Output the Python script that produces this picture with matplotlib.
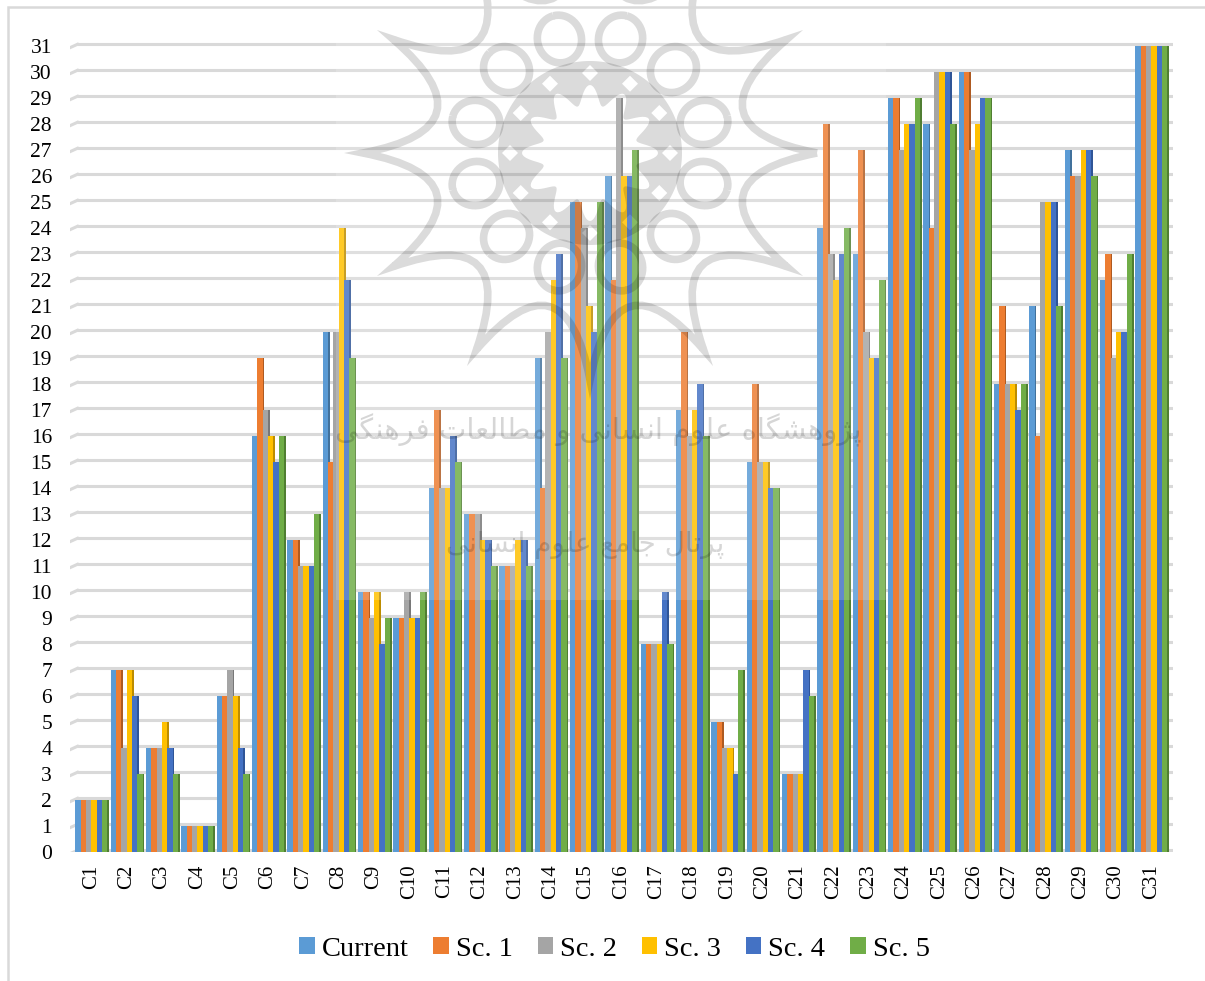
import matplotlib
matplotlib.use("Agg")
import matplotlib.pyplot as plt
from matplotlib.path import Path
from matplotlib.patches import PathPatch, Rectangle
import numpy as np

categories = [f"C{i}" for i in range(1, 32)]
current = [2, 7, 4, 1, 6, 16, 12, 20, 10, 9, 14, 13, 11, 19, 25, 26, 8, 17, 5, 15, 3, 24, 23, 29, 28, 30, 18, 21, 27, 22, 31]
sc1 = [2, 7, 4, 1, 6, 19, 12, 15, 10, 9, 17, 13, 11, 14, 25, 22, 8, 20, 5, 18, 3, 28, 27, 29, 24, 30, 21, 16, 26, 23, 31]
sc2 = [2, 4, 4, 1, 7, 17, 11, 20, 9, 10, 14, 13, 11, 20, 24, 29, 8, 16, 4, 15, 3, 23, 20, 27, 30, 27, 18, 25, 26, 19, 31]
sc3 = [2, 7, 5, 1, 6, 16, 11, 24, 10, 9, 14, 12, 12, 22, 21, 26, 8, 17, 4, 15, 3, 22, 19, 28, 30, 28, 18, 25, 27, 20, 31]
sc4 = [2, 6, 4, 1, 4, 15, 11, 22, 8, 9, 16, 12, 12, 23, 20, 26, 10, 18, 3, 14, 7, 23, 19, 28, 30, 29, 17, 25, 27, 20, 31]
sc5 = [2, 3, 3, 1, 3, 16, 13, 19, 9, 10, 15, 11, 11, 19, 25, 27, 8, 16, 7, 14, 6, 24, 22, 29, 28, 29, 18, 21, 26, 23, 31]
series = [current, sc1, sc2, sc3, sc4, sc5]
labels = ["Current", "Sc. 1", "Sc. 2", "Sc. 3", "Sc. 4", "Sc. 5"]
colors = ["#5B9BD5", "#ED7D31", "#A5A5A5", "#FFC000", "#4472C4", "#70AD47"]
sides = ["#41719C", "#AE5A21", "#787878", "#BC8C00", "#2F5597", "#507E32"]

line1 = "پژوهشگاه علوم انسانی و مطالعات فرهنگی"
line2 = "پرتال جامع علوم انسانی"

# presentation forms: isolated, final, initial, medial
FORMS = {
    "ا": (0xFE8D, 0xFE8E), "ر": (0xFEAD, 0xFEAE), "ژ": (0xFB8A, 0xFB8B), "و": (0xFEED, 0xFEEE),
    "پ": (0xFB56, 0xFB57, 0xFB58, 0xFB59), "ت": (0xFE95, 0xFE96, 0xFE97, 0xFE98),
    "ج": (0xFE9D, 0xFE9E, 0xFE9F, 0xFEA0), "س": (0xFEB1, 0xFEB2, 0xFEB3, 0xFEB4),
    "ش": (0xFEB5, 0xFEB6, 0xFEB7, 0xFEB8), "ط": (0xFEC1, 0xFEC2, 0xFEC3, 0xFEC4),
    "ع": (0xFEC9, 0xFECA, 0xFECB, 0xFECC), "ف": (0xFED1, 0xFED2, 0xFED3, 0xFED4),
    "گ": (0xFB92, 0xFB93, 0xFB94, 0xFB95), "ل": (0xFEDD, 0xFEDE, 0xFEDF, 0xFEE0),
    "م": (0xFEE1, 0xFEE2, 0xFEE3, 0xFEE4), "ن": (0xFEE5, 0xFEE6, 0xFEE7, 0xFEE8),
    "ه": (0xFEE9, 0xFEEA, 0xFEEB, 0xFEEC), "ی": (0xFBFC, 0xFBFD, 0xFBFE, 0xFBFF),
}


def shape(text):
    # matplotlib does no arabic shaping, so pick the joined forms and reverse
    out = []
    for k, ch in enumerate(text):
        if ch not in FORMS:
            out.append(ch)
            continue
        prev = text[k - 1] if k > 0 else " "
        nxt = text[k + 1] if k < len(text) - 1 else " "
        joins_prev = prev in FORMS and len(FORMS[prev]) == 4
        joins_next = nxt in FORMS and len(FORMS[ch]) == 4
        if joins_prev and joins_next:
            idx = 3
        elif joins_next:
            idx = 2
        elif joins_prev:
            idx = 1
        else:
            idx = 0
        out.append(chr(FORMS[ch][idx]))
    return "".join(out[::-1])


def emblem_lines(cx, cy):
    # twelve pointed star and the ring of twelve loops, stroked
    verts, codes = [], []
    step = np.pi / 6
    for k in range(13):
        a = k * step
        tip = (cx + 227 * np.cos(a), cy - 227 * np.sin(a))
        if k == 0:
            verts.append(tip)
            codes.append(Path.MOVETO)
        else:
            mid = a - step / 2
            verts.append((cx + 98 * np.cos(mid), cy - 98 * np.sin(mid)))
            codes.append(Path.CURVE3)
            verts.append(tip)
            codes.append(Path.CURVE3)
    t = np.linspace(0, 2 * np.pi, 49)
    for k in range(12):
        a = k * step + step / 2
        x = 24 * np.cos(t)
        y = 22 * np.sin(t)
        px = cx + 118 * np.cos(a) + x * np.cos(a) - y * np.sin(a)
        py = cy - 118 * np.sin(a) - x * np.sin(a) - y * np.cos(a)
        verts += list(zip(px, py))
        codes += [Path.MOVETO] + [Path.LINETO] * 48
    return Path(verts, codes)


def emblem_band(cx, cy):
    # thick middle band, white flower inside and small diamonds cut out of it
    verts, codes = [], []
    t = np.linspace(0, 2 * np.pi, 241)
    verts += list(zip(cx + 92 * np.cos(t), cy + 92 * np.sin(t)))
    codes += [Path.MOVETO] + [Path.LINETO] * 240
    r = 58 + 10 * np.cos(12 * t)
    verts += list(zip(cx + r[::-1] * np.cos(t[::-1]), cy + r[::-1] * np.sin(t[::-1])))
    codes += [Path.MOVETO] + [Path.LINETO] * 240
    for k in range(12):
        a = k * np.pi / 6
        px, py = cx + 80 * np.cos(a), cy + 80 * np.sin(a)
        d = 8
        verts += [(px + d, py), (px, py - d), (px - d, py), (px, py + d), (px + d, py)]
        codes += [Path.MOVETO] + [Path.LINETO] * 4
    return Path(verts, codes)


W, H = 1205, 981
fig = plt.figure(figsize=(W / 100, H / 100), dpi=100)
plt.rcParams["font.family"] = ["Liberation Serif", "DejaVu Sans"]

# axes box in pixels, bottom at value 0
ax = fig.add_axes([70 / W, 1 - 852 / H, (1173 - 70) / W, (852 - 20) / H])
pitch = 35.33
ax.set_xlim((70 - 91.4) / pitch, (1173 - 91.4) / pitch)
ax.set_ylim(0, (852 - 20) / 26.0)

x = np.arange(len(categories))
bar_w = 5.33 / pitch
side_w = 1.7 / pitch
lift = 1.7 / 26.0
drop = 3.2 / 26.0
stub = 7 / pitch
for v in range(32):
    ax.plot([x[0] - 0.396, x[-1] + 0.625], [v + lift, v + lift], color="#D9D9D9", lw=2.2, zorder=1, solid_capstyle="butt")
    ax.plot([x[0] - 0.396 - stub, x[0] - 0.396], [v + lift - drop, v + lift], color="#D9D9D9", lw=2.2, zorder=1)

for j, vals in enumerate(series):
    pos = x + (j - 2.5) * bar_w
    ax.bar(pos + bar_w / 2 + side_w / 2, vals, side_w, color=sides[j], zorder=2 + j * 2, linewidth=0)
    ax.bar(pos, vals, bar_w, color=colors[j], label=labels[j], zorder=3 + j * 2, linewidth=0)

for s in ax.spines.values():
    s.set_visible(False)
ax.patch.set_visible(False)
ax.set_xticks(x)
ax.set_xticklabels(categories, rotation=90, fontsize=15)
ax.set_yticks(np.arange(32))
ax.set_yticklabels([str(v) for v in range(32)], fontsize=15.5)
ax.tick_params(axis="both", length=0)
ax.tick_params(axis="x", pad=9)
ax.tick_params(axis="y", pad=13)

leg = ax.legend(loc="center", bbox_to_anchor=(614.5 / W, 1 - 949 / H), bbox_transform=fig.transFigure, ncol=6,
                frameon=False, fontsize=20.5, handlelength=0.54, handleheight=0.54, handletextpad=0.25, columnspacing=0.87,
                borderpad=0, borderaxespad=0)

# overlay in image pixels: page frame and the watermark
over = fig.add_axes([0, 0, 1, 1], zorder=10)
over.set_xlim(0, W)
over.set_ylim(H, 0)
over.axis("off")
over.plot([7.5, 7.5, W], [H, 6.5, 6.5], color="#D9D9D9", lw=1.8, solid_joinstyle="miter")
over.add_patch(Rectangle((336, 0), 550, 600, facecolor="white", alpha=0.16, linewidth=0))
over.add_patch(PathPatch(emblem_lines(590, 153), facecolor="none", edgecolor="black", alpha=0.14, lw=5.5))
over.add_patch(PathPatch(emblem_band(590, 153), facecolor="black", edgecolor="none", alpha=0.14))
over.text(598, 430, shape(line1), family="DejaVu Sans", fontsize=21, color="black", alpha=0.16, ha="center", va="center")
over.text(585, 545, shape(line2), family="DejaVu Sans", fontsize=20, color="black", alpha=0.16, ha="center", va="center")

fig.savefig("out.png", dpi=100)
